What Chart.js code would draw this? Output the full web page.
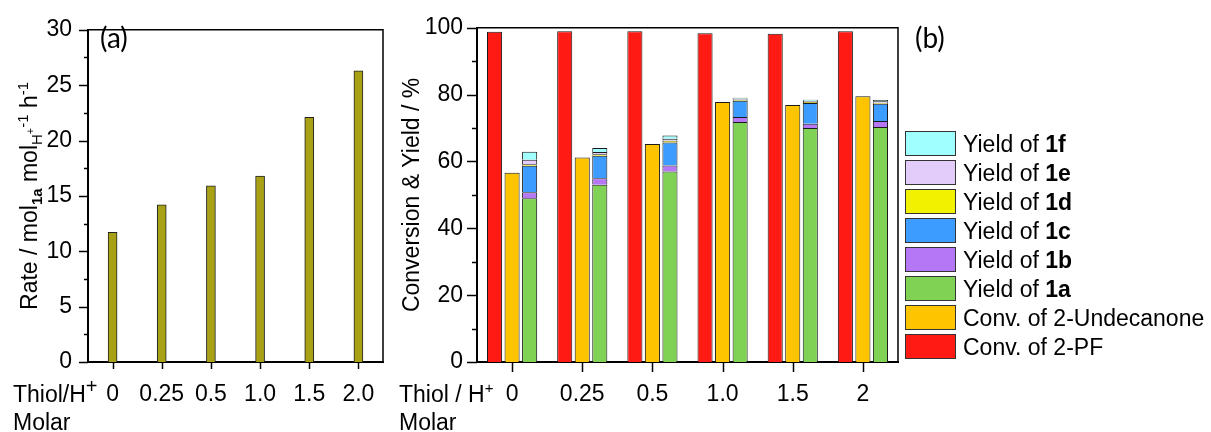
<!DOCTYPE html>
<html>
<head>
<meta charset="utf-8">
<script src="https://cdn.jsdelivr.net/npm/chart.js@4.4.0/dist/chart.umd.min.js"></script>
<style>
  body { margin: 0; background: #fff; width: 1211px; height: 432px; position: relative; overflow: hidden; }
  #chartA { position: absolute; left: 0; top: 0; }
  #chartB { position: absolute; left: 395px; top: 0; }
</style>
</head>
<body>
<canvas id="chartA" width="400" height="432"></canvas>
<canvas id="chartB" width="816" height="432"></canvas>
<script>
// Data panel (a)
const ratiosA = ['0', '0.25', '0.5', '1.0', '1.5', '2.0'];
const rate = [11.7, 14.2, 15.9, 16.8, 22.1, 26.3];

// Data panel (b)
const ratiosB = ['0', '0.25', '0.5', '1.0', '1.5', '2'];
const conv2PF = [98.8, 99.0, 99.0, 98.4, 98.2, 99.0];
const convUndec = [56.6, 61.2, 65.2, 77.8, 76.9, 79.5];
const yield1a = [49.0, 53.0, 57.0, 71.8, 70.0, 70.3];
const yield1b = [1.8, 2.0, 1.8, 1.5, 1.3, 1.8];
const yield1c = [7.9, 6.7, 6.9, 4.9, 6.2, 5.2];
const yield1d = [0.5, 0.5, 0.5, 0.3, 0.3, 0.3];
const yield1e = [1.3, 0.6, 0.6, 0.3, 0.3, 0.4];
const yield1f = [2.4, 1.2, 1.0, 0.3, 0.4, 0.4];

const FONT = "'Liberation Sans', Arial, sans-serif";
const PANEL_FONT = "Lato, 'Open Sans', sans-serif";

// text with sub/superscripts: parts = [text, size, dy, bold]
function drawRich(ctx, parts, x, y, align) {
    let w = 0;
    parts.forEach(p => {
        ctx.font = (p[3] ? 'bold ' : '') + p[1] + 'px ' + FONT;
        w += ctx.measureText(p[0]).width;
    });
    let cx = align === 'center' ? x - w / 2 : x;
    ctx.textAlign = 'left';
    ctx.textBaseline = 'alphabetic';
    ctx.fillStyle = '#000';
    parts.forEach(p => {
        ctx.font = (p[3] ? 'bold ' : '') + p[1] + 'px ' + FONT;
        ctx.fillText(p[0], cx, y + p[2]);
        cx += ctx.measureText(p[0]).width;
    });
}

// frame, tick marks and extra labels
const decor = {
    id: 'decor',
    afterDraw(chart, args, opts) {
        const { ctx, chartArea: a, scales: { x, y } } = chart;
        ctx.save();
        ctx.strokeStyle = '#000';
        ctx.lineWidth = 1.5;
        ctx.beginPath();
        ctx.moveTo(a.left, a.top);
        ctx.lineTo(a.right, a.top);
        ctx.lineTo(a.right, a.bottom);
        ctx.stroke();

        y.ticks.forEach(t => {
            const py = Math.round(y.getPixelForValue(t.value)) + 0.5;
            const len = t.value % opts.major === 0 ? opts.yMajor : opts.yMinor;
            ctx.beginPath();
            ctx.moveTo(a.left, py);
            ctx.lineTo(a.left - len, py);
            ctx.stroke();
        });
        x.ticks.forEach((t, i) => {
            const px = Math.round(x.getPixelForTick(i)) + 0.5;
            ctx.beginPath();
            ctx.moveTo(px, a.bottom);
            ctx.lineTo(px, a.bottom + opts.xLen);
            ctx.stroke();
        });

        // y title (rotated)
        ctx.save();
        ctx.translate(opts.titleX, (a.top + a.bottom) / 2);
        ctx.rotate(-Math.PI / 2);
        drawRich(ctx, opts.title, 0, 0, 'center');
        ctx.restore();

        // x axis name
        drawRich(ctx, opts.xName, opts.xNameX, 402, 'left');
        drawRich(ctx, [['Molar', 23, 0]], opts.xNameX, 430, 'left');

        // panel letter
        ctx.font = '28px ' + PANEL_FONT;
        ctx.fillStyle = '#000';
        ctx.textAlign = 'left';
        ctx.textBaseline = 'alphabetic';
        ctx.fillText(opts.letter[0], opts.letter[1], opts.letter[2]);
        ctx.restore();
    }
};

// legend with bold compound names
const richLegend = {
    id: 'richLegend',
    afterDraw(chart, args, opts) {
        if (!opts.show) return;
        const ctx = chart.ctx;
        const sets = chart.data.datasets.slice().reverse();
        ctx.save();
        sets.forEach((ds, i) => {
            const top = opts.top + i * opts.step;
            ctx.fillStyle = ds.backgroundColor;
            ctx.fillRect(opts.x, top, opts.w, opts.h);
            ctx.strokeStyle = '#333';
            ctx.lineWidth = 1;
            ctx.strokeRect(opts.x + 0.5, top + 0.5, opts.w - 1, opts.h - 1);
            const parts = ds.label.startsWith('Yield')
                ? [['Yield of ', 23, 0], [ds.label.replace('Yield of ', ''), 23, 0, true]]
                : [[ds.label, 23, 0]];
            drawRich(ctx, parts, opts.x + opts.w + 7, top + opts.h / 2 + 8, 'left');
        });
        ctx.restore();
    }
};

function axisOpts(extra) {
    return Object.assign({
        grid: { display: false, drawTicks: false },
        border: { display: true, color: '#000', width: 2 },
    }, extra);
}

const xTicks = {
    color: '#000', font: { size: 23, family: FONT }, padding: 19,
    maxRotation: 0, minRotation: 0, autoSkip: false
};

new Chart(document.getElementById('chartA'), {
    type: 'bar',
    data: {
        labels: ratiosA,
        datasets: [{
            label: 'Rate',
            data: rate,
            backgroundColor: '#A8A116',
            borderColor: '#222',
            borderWidth: 1,
            barThickness: 9
        }]
    },
    options: {
        responsive: false,
        animation: false,
        layout: { padding: { top: 24, right: 17, left: 0, bottom: 0 } },
        plugins: {
            legend: { display: false },
            tooltip: { enabled: false },
            decor: {
                major: 5, yMajor: 9, yMinor: 4, xLen: 7, titleX: 37,
                title: [['Rate / mol', 23, 0], ['1a', 15, 5, true], [' mol', 23, 0], ['H', 15, 5],
                        ['+', 11, -3], ['-1', 15, -9], [' h', 23, 0], ['-1', 15, -9]],
                xName: [['Thiol/H', 23, 0], ['+', 20, -9]], xNameX: 13,
                letter: ['(a)', 100, 48]
            },
            richLegend: { show: false }
        },
        scales: {
            x: axisOpts({
                ticks: xTicks,
                afterFit(s) { s.height = 70; }
            }),
            y: axisOpts({
                min: 0, max: 30,
                ticks: {
                    stepSize: 2.5, autoSkip: false, color: '#000', padding: 16,
                    font: { size: 23, family: FONT },
                    callback: v => (v % 5 === 0 ? v : '')
                },
                afterFit(s) { s.width = 88; }
            })
        }
    },
    plugins: [decor, richLegend]
});

function barSet(label, data, color, stack) {
    return {
        label: label, data: data, stack: stack,
        backgroundColor: color, borderColor: '#1a1a1a', borderWidth: 1,
        barPercentage: 0.86, categoryPercentage: 0.75
    };
}

new Chart(document.getElementById('chartB'), {
    type: 'bar',
    data: {
        labels: ratiosB,
        datasets: [
            barSet('Conv. of 2-PF', conv2PF, '#FF1B14', 'pf'),
            barSet('Conv. of 2-Undecanone', convUndec, '#FFC400', 'un'),
            barSet('Yield of 1a', yield1a, '#80D254', 'y'),
            barSet('Yield of 1b', yield1b, '#B677F7', 'y'),
            barSet('Yield of 1c', yield1c, '#3D9CFF', 'y'),
            barSet('Yield of 1d', yield1d, '#F2F200', 'y'),
            barSet('Yield of 1e', yield1e, '#E3CCFA', 'y'),
            barSet('Yield of 1f', yield1f, '#A0FFFF', 'y')
        ]
    },
    options: {
        responsive: false,
        animation: false,
        layout: { padding: { top: 26, right: 313, left: 0, bottom: 0 } },
        plugins: {
            legend: { display: false },
            tooltip: { enabled: false },
            decor: {
                major: 20, yMajor: 10, yMinor: 5, xLen: 10, titleX: 24,
                title: [['Conversion & Yield / %', 23, 0]],
                xName: [['Thiol / H', 23, 0], ['+', 15, -9]], xNameX: 4,
                letter: ['(b)', 520, 48]
            },
            richLegend: { show: true, x: 510, top: 131, step: 29, w: 51, h: 25 }
        },
        scales: {
            x: axisOpts({
                stacked: true,
                ticks: xTicks,
                afterFit(s) { s.height = 70; }
            }),
            y: axisOpts({
                stacked: true,
                min: 0, max: 100,
                ticks: {
                    stepSize: 10, autoSkip: false, color: '#000', padding: 14,
                    font: { size: 23, family: FONT },
                    callback: v => (v % 20 === 0 ? v : '')
                },
                afterFit(s) { s.width = 82; }
            })
        }
    },
    plugins: [decor, richLegend]
});
</script>
</body>
</html>
